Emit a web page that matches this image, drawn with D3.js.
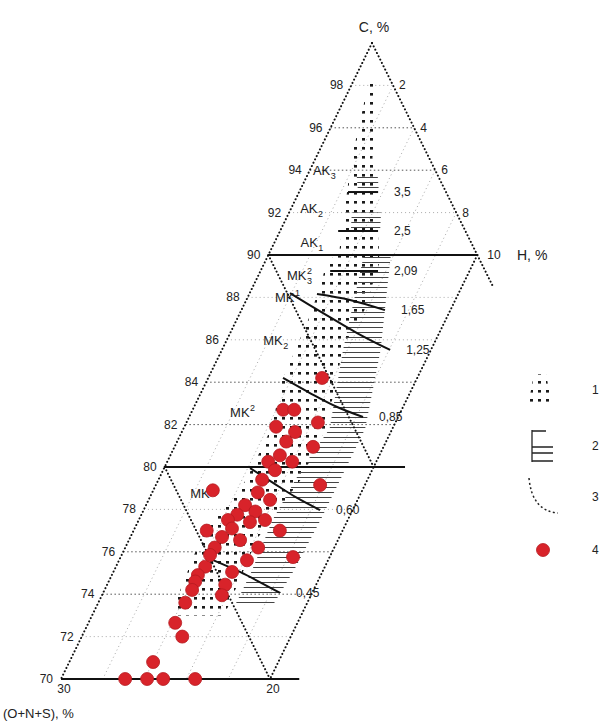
<!DOCTYPE html>
<html>
<head>
<meta charset="utf-8">
<script src="https://cdn.jsdelivr.net/npm/d3@7/dist/d3.min.js"></script>
<style>
  html, body { margin: 0; padding: 0; background: #fff; }
  svg { display: block; font-family: "Liberation Sans", Arial, sans-serif; }
</style>
</head>
<body>
<div id="chart"></div>
<script>
// --- axis ticks
const carbonTicks = [98, 96, 94, 92, 90, 88, 86, 84, 82, 80, 78, 76, 74, 72, 70];
const hydrogenTicks = [2, 4, 6, 8, 10];
const solidLevels = [90, 80, 70];          // solid horizontal lines (C, %)
const solidReach = [10, 11.5, 11.4];       // how far in H they run
const gridStrong = [96, 94, 84, 82, 76, 74];
const gridFaint = [98, 92, 88, 86, 78, 72];
const isoH = [2, 4, 6, 8];

// --- zone 1 (dotted band): [C, H left, H right]
const zone1 = [
  [98.3, 0.7, 1.0], [96.2, 1.3, 2.1], [94.6, 1.7, 2.7], [90.2, 3.3, 5.2],
  [89.6, 3.0, 5.5], [87.3, 3.4, 5.9], [85.7, 3.5, 5.7], [84.1, 3.6, 6.2],
  [81.8, 4.2, 6.8], [79.4, 4.2, 6.8], [76.6, 3.4, 6.1], [73.4, 3.7, 6.3],
  [73.0, 4.0, 6.3]
];

// --- zone 2 (hatched): several pieces, rows [C, H left, H right]
const zone2 = [
  [[93.7, 2.4, 3.4], [93.0, 2.8, 3.8]],
  [[92.0, 3.0, 4.4], [91.1, 3.4, 4.8]],
  [[89.9, 4.6, 5.9], [85.5, 5.8, 7.6], [81.8, 7.0, 8.7], [79.9, 6.6, 8.7],
   [77.5, 6.4, 8.7], [75.1, 6.6, 8.6], [73.4, 6.6, 8.4]]
];

// --- boundary lines (3) and their labels
const boundaryLabels = ['3,5', '2,5', '2,09', '1,65', '1,25', '0,85', '0,60', '0,45'];
const boundaryPts = [
  [[92.97, 2.34], [92.97, 3.78]],
  [[91.13, 2.78], [91.13, 4.69]],
  [[89.25, 3.33], [89.25, 5.62]],
  [[88.16, 3.24], [87.88, 4.96], [87.4, 6.87]],
  [[88.2, 1.93], [87.26, 3.98], [86.32, 6.07], [85.52, 8.05]],
  [[84.2, 3.58], [83.49, 5.22], [82.83, 6.85], [82.36, 8.32]],
  [[79.95, 4.11], [79.25, 5.56], [78.54, 7.06], [77.97, 8.44]],
  [[75.61, 4.49], [75.05, 6.06], [74.06, 8.47]]
];

// --- stage labels
const stageNames = ['AK', 'AK', 'AK', 'MK', 'MK', 'MK', 'MK', 'MK'];
const stageSub = ['3', '2', '1', '3', '', '2', '', ''];
const stageSup = ['', '', '', '2', '1', '', '2', '1'];
const stageC = [94.0, 92.2, 90.6, 89.06, 88.0, 85.99, 82.6, 78.77];
const stageH = [0.15, 0.43, 1.24, 1.36, 1.31, 1.74, 1.84, 1.83];

// --- samples (4)
const sampleC = [84.2, 82.7, 82.7, 82.1, 81.9, 81.65, 81.2, 80.95, 80.55, 80.25, 80.25, 79.85,
  79.15, 78.9, 79.4, 78.8, 78.45, 78.2, 77.9, 77.75, 77.5, 77.4, 77.0, 77.0, 76.7, 76.55,
  76.2, 76.2, 75.75, 75.3, 74.9, 75.05, 74.45, 73.95, 74.6, 74.2, 73.6, 72.65, 72.0, 70.8,
  70.0, 70.0, 70.0, 70.0, 77.1, 77.5, 75.85, 75.6];
const sampleH = [5.45, 4.33, 4.86, 6.29, 4.39, 5.42, 5.22, 6.63, 5.24, 4.83, 5.98, 5.35,
  7.86, 2.85, 4.96, 5.05, 5.81, 4.74, 5.38, 4.59, 4.27, 5.37, 7.0, 3.5, 4.38, 5.32,
  6.36, 4.28, 8.25, 4.27, 4.12, 5.68, 5.65, 5.74, 4.14, 4.19, 4.16, 4.15, 4.81, 4.01,
  3.07, 4.12, 4.89, 6.42, 4.66, 6.04, 4.23, 6.12];

const width = 603, height = 725;

// skewed ternary: C sets row & left edge, H shifts to the right
const yC = d3.scaleLinear().domain([100, 70]).range([43, 679]);
const xC = d3.scaleLinear().domain([100, 70]).range([372, 61]);
const xH = d3.scaleLinear().domain([0, 10]).range([0, 209]);
const proj = (c, h) => [xC(c) + xH(h), yC(c)];

const svg = d3.select('#chart').append('svg')
  .attr('width', width).attr('height', height);

// patterns
const defs = svg.append('defs');
defs.append('pattern').attr('id', 'dots')
  .attr('patternUnits', 'userSpaceOnUse').attr('width', 8).attr('height', 9)
  .append('rect').attr('x', 2).attr('y', 3).attr('width', 3).attr('height', 2.6).attr('fill', '#1a1a1a');
defs.append('pattern').attr('id', 'hatch')
  .attr('patternUnits', 'userSpaceOnUse').attr('width', 10).attr('height', 5)
  .append('line').attr('x1', 0).attr('x2', 10).attr('y1', 2.5).attr('y2', 2.5)
  .attr('stroke', '#444').attr('stroke-width', 1);

const line = d3.line();
const dotStyle = sel => sel.attr('fill', 'none').attr('stroke', '#111')
  .attr('stroke-width', 2).attr('stroke-linecap', 'round').attr('stroke-dasharray', '0.1,3.6');

// faint grid
const g = svg.append('g');
gridFaint.concat(gridStrong).forEach(c => {
  const hMax = Math.min(10, 100 - c);
  const strong = gridStrong.includes(c);
  g.append('path').attr('d', line([proj(c, 0), proj(c, hMax)]))
    .attr('fill', 'none').attr('stroke', strong ? '#555' : '#aaa')
    .attr('stroke-width', 1).attr('stroke-dasharray', strong ? '1.5,2.5' : '1,3');
});
isoH.forEach(h => {
  g.append('path').attr('d', line([proj(100 - h, h), proj(70, h)]))
    .attr('fill', 'none').attr('stroke', '#aaa').attr('stroke-width', 1).attr('stroke-dasharray', '1,3');
});

// zones
const zonePath = rows => {
  const left = rows.map(r => proj(r[0], r[1]));
  const right = rows.map(r => proj(r[0], r[2])).reverse();
  return line(left.concat(right)) + 'Z';
};
g.append('path').attr('d', zonePath(zone1)).attr('fill', 'url(#dots)');
zone2.forEach(z => g.append('path').attr('d', zonePath(z)).attr('fill', 'url(#hatch)'));

// frame: dotted edges
g.append('path').attr('d', line([proj(100, 0), proj(70, 0)])).call(dotStyle);
g.append('path').attr('d', line([proj(100, 0), proj(88.5, 11.5)])).call(dotStyle);
g.append('path').attr('d', line([proj(90, 10), proj(70, 10)])).call(dotStyle);
g.append('path').attr('d', line([proj(90, 0), proj(80, 10)])).call(dotStyle);
g.append('path').attr('d', line([proj(80, 0), proj(70, 10)])).call(dotStyle);

// solid levels
solidLevels.forEach((c, i) => {
  g.append('path').attr('d', line([proj(c, 0), proj(c, solidReach[i])]))
    .attr('stroke', '#111').attr('stroke-width', 2);
});

// boundary curves
const curve = d3.line().curve(d3.curveCatmullRom);
boundaryPts.forEach((pts, i) => {
  const p = pts.map(d => proj(d[0], d[1]));
  g.append('path').attr('d', curve(p)).attr('fill', 'none')
    .attr('stroke', '#111').attr('stroke-width', 2);
  const last = p[p.length - 1];
  g.append('text').attr('x', last[0] + 16).attr('y', last[1] + 4)
    .attr('font-size', 12).attr('fill', '#222').text(boundaryLabels[i]);
});

// stage labels with sub/superscripts
stageNames.forEach((name, i) => {
  const [x, y] = proj(stageC[i], stageH[i]);
  const t = g.append('text').attr('x', x).attr('y', y + 5)
    .attr('font-size', 13).attr('fill', '#222').text(name);
  const w = t.node().getComputedTextLength();
  if (stageSup[i]) g.append('text').attr('x', x + w + 0.5).attr('y', y - 1)
    .attr('font-size', 9).attr('fill', '#222').text(stageSup[i]);
  if (stageSub[i]) g.append('text').attr('x', x + w + 0.5).attr('y', y + 9)
    .attr('font-size', 9).attr('fill', '#222').text(stageSub[i]);
});

// samples
g.selectAll('circle.s').data(sampleC).enter().append('circle')
  .attr('class', 's')
  .attr('cx', (c, i) => proj(c, sampleH[i])[0])
  .attr('cy', c => yC(c))
  .attr('r', 6.5).attr('fill', '#d8232a').attr('stroke', '#b51a20').attr('stroke-width', 0.8);

// tick labels
carbonTicks.forEach(c => {
  g.append('text').attr('x', xC(c) - 8).attr('y', yC(c) + 4)
    .attr('text-anchor', 'end').attr('font-size', 12).attr('fill', '#222').text(c);
});
hydrogenTicks.forEach(h => {
  const [x, y] = proj(100 - h, h);
  g.append('text').attr('x', x + (h === 10 ? 10 : 6)).attr('y', y + 4)
    .attr('font-size', 12).attr('fill', '#222').text(h);
});
g.append('text').attr('x', proj(70, 0)[0] + 3).attr('y', yC(70) + 14)
  .attr('text-anchor', 'middle').attr('font-size', 12).attr('fill', '#222').text('30');
g.append('text').attr('x', proj(70, 10)[0] + 3).attr('y', yC(70) + 14)
  .attr('text-anchor', 'middle').attr('font-size', 12).attr('fill', '#222').text('20');

// axis titles
g.append('text').attr('x', xC(100) + 2).attr('y', 32).attr('text-anchor', 'middle')
  .attr('font-size', 14).attr('fill', '#222').text('C, %');
g.append('text').attr('x', 517).attr('y', yC(90) + 5)
  .attr('font-size', 14).attr('fill', '#222').text('H, %');
g.append('text').attr('x', 3).attr('y', 718)
  .attr('font-size', 13).attr('fill', '#222').text('(O+N+S), %');

// legend
const lg = svg.append('g');
lg.append('path').attr('d', 'M534,374 L546,374 L552,406 L528,406 Z').attr('fill', 'url(#dots)');
lg.append('path').attr('d', 'M532,430 L532,462 M532,431 L546,431 M532,447 L553,447 M532,453 L553,453 M532,461 L553,461')
  .attr('stroke', '#222').attr('stroke-width', 1.3).attr('fill', 'none');
lg.append('path').attr('d', 'M529,478 Q532,511 558,513')
  .attr('fill', 'none').attr('stroke', '#222').attr('stroke-width', 1.5).attr('stroke-dasharray', '2,2.5');
lg.append('circle').attr('cx', 543).attr('cy', 550).attr('r', 6.5)
  .attr('fill', '#d8232a').attr('stroke', '#b51a20').attr('stroke-width', 0.8);
['1', '2', '3', '4'].forEach((t, i) => {
  lg.append('text').attr('x', 592).attr('y', [394, 450, 501, 554][i])
    .attr('font-size', 12).attr('fill', '#222').text(t);
});
</script>
</body>
</html>
